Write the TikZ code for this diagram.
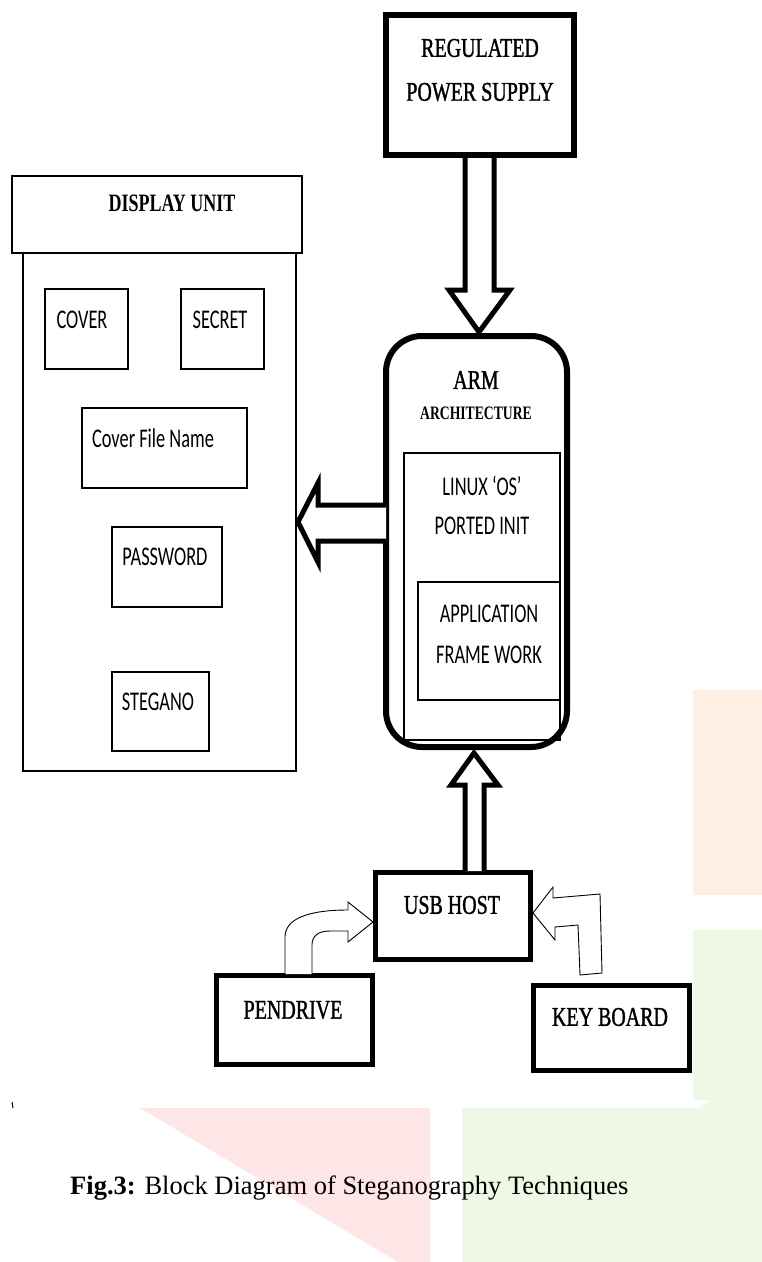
\documentclass[tikz,border=0pt]{standalone}
\usepackage{fontspec}
\setmainfont{Liberation Serif}
\newfontfamily\sercond{Liberation Serif}[FakeStretch=0.74,FakeBold=1.2]
\newfontfamily\serbcond{Liberation Serif}[FakeStretch=0.72]
\newfontfamily\sancond{Carlito}[FakeStretch=0.68]
\definecolor{wmpink}{RGB}{255,230,230}
\definecolor{wmorange}{RGB}{255,238,226}
\definecolor{wmgreen}{RGB}{238,248,229}
\tikzset{
  thinbox/.style={draw, line width=1.2pt, inner sep=0pt},
  serlabel/.style={font=\sercond\fontsize{27}{27}\selectfont, inner sep=0pt, anchor=center},
  serbold/.style={font=\serbcond\bfseries\fontsize{25}{25}\selectfont, inner sep=0pt},
  sanlabel/.style={font=\sancond\fontsize{27}{27}\selectfont, inner sep=0pt},
  blockarrow/.style={draw, line width=5pt, fill=white, line join=miter},
  thinarrow/.style={draw, line width=0.9pt, fill=white, line join=miter},
}
\begin{document}
\begin{tikzpicture}[x=1pt,y=-1pt]
\useasboundingbox (0,0) rectangle (762,1262);
% faint watermark
\fill[wmorange] (693,690) rectangle (762,895);
\fill[wmgreen] (693,930) rectangle (762,1100);
\fill[wmpink] (140,1108) -- (430,1108) -- (430,1262) -- (398,1262) -- cycle;
\fill[wmgreen] (462,1108) -- (700,1108) -- (762,1050) -- (762,1262) -- (462,1262) -- cycle;
% power supply
\node[draw, line width=6pt, minimum width=188pt, minimum height=140pt, inner sep=0pt] (ps) at (480,85) {};
\node[serlabel] (ps1) at (480,48) {REGULATED};
\node[serlabel] (ps2) at (480,92) {POWER SUPPLY};
% ARM
\node[draw, line width=6pt, rounded corners=36pt, minimum width=181pt, minimum height=411pt, inner sep=0pt] (arm) at (476.5,541.5) {};
\node[serlabel] (arm1) at (476,380) {ARM};
\node[font=\serbcond\bfseries\fontsize{19}{19}\selectfont, inner sep=0pt] (arm2) at (476,413) {ARCHITECTURE};
\node[thinbox, minimum width=156pt, minimum height=287pt] (linux) at (482,596.5) {};
\node[sanlabel] (lx1) at (482,486) {LINUX ‘OS’};
\node[sanlabel] (lx2) at (482,526) {PORTED INIT};
\node[thinbox, minimum width=142pt, minimum height=118pt] (app) at (489,641) {};
\node[sanlabel] (ap1) at (489,614) {APPLICATION};
\node[sanlabel] (ap2) at (489,655) {FRAME WORK};
% display unit
\node[thinbox, minimum width=290pt, minimum height=77pt] (dh) at (157,214.5) {};
\node[serbold] (dht) at (172,203) {DISPLAY UNIT};
\node[thinbox, minimum width=273pt, minimum height=518pt] (db) at (159.5,512) {};
\node[thinbox, minimum width=83pt, minimum height=80pt] (cov) at (86.5,329) {};
\node[sanlabel] (covt) at (82,320) {COVER};
\node[thinbox, minimum width=83pt, minimum height=80pt] (sec) at (222.5,329) {};
\node[sanlabel] (sect) at (220,320) {SECRET};
\node[thinbox, minimum width=165pt, minimum height=80pt] (cfn) at (164.5,448) {};
\node[sanlabel] (cfnt) at (153,438) {Cover File Name};
\node[thinbox, minimum width=110pt, minimum height=80pt] (pwd) at (167,567) {};
\node[sanlabel] (pwdt) at (165,557) {PASSWORD};
\node[thinbox, minimum width=97pt, minimum height=79pt] (stg) at (160.5,711.5) {};
\node[sanlabel] (stgt) at (158,702) {STEGANO};
% USB and devices
\node[draw, line width=5pt, minimum width=155pt, minimum height=87pt, inner sep=0pt] (usb) at (453,916) {};
\node[serlabel] (usbt) at (452,905) {USB HOST};
\node[draw, line width=5pt, minimum width=156pt, minimum height=89pt, inner sep=0pt] (pen) at (294.5,1020) {};
\node[serlabel] (pent) at (293,1010) {PENDRIVE};
\node[draw, line width=5pt, minimum width=156pt, minimum height=85pt, inner sep=0pt] (kb) at (611.5,1028) {};
\node[serlabel] (kbt) at (610,1017) {KEY BOARD};
% block arrows
\draw[blockarrow] (465,158) -- (465,290) -- (449,290) -- (479,332) -- (510,290) -- (494,290) -- (494,158);
\draw[blockarrow] (386,505) -- (318,505) -- (318,483) -- (298,522) -- (318,562) -- (318,541) -- (386,541);
\draw[blockarrow] (465,871) -- (465,785) -- (451,785) -- (474,753) -- (498,785) -- (484,785) -- (484,871);
% thin arrows
\draw[thinarrow] (285,974) -- (285,937) .. controls (285,918) and (310,910) .. (348,910) -- (348,902) -- (373,922) -- (348,942) -- (348,931) -- (330,931) .. controls (318,931) and (312,936) .. (312,945) -- (312,974);
\draw[thinarrow] (533,913) -- (553,887) -- (553,898) -- (600,894) -- (602,973) -- (580,975) -- (578,925) -- (555,927) -- (555,940) -- cycle;
% tiny mark
\draw[line width=1pt] (12,1102) -- (13,1108);
% caption
\node[anchor=base west, inner sep=0pt, font=\fontsize{26.5}{26.5}\selectfont] (cap) at (70,1194) {\textbf{Fig.3:} Block Diagram of Steganography Techniques};
\end{tikzpicture}
\end{document}
